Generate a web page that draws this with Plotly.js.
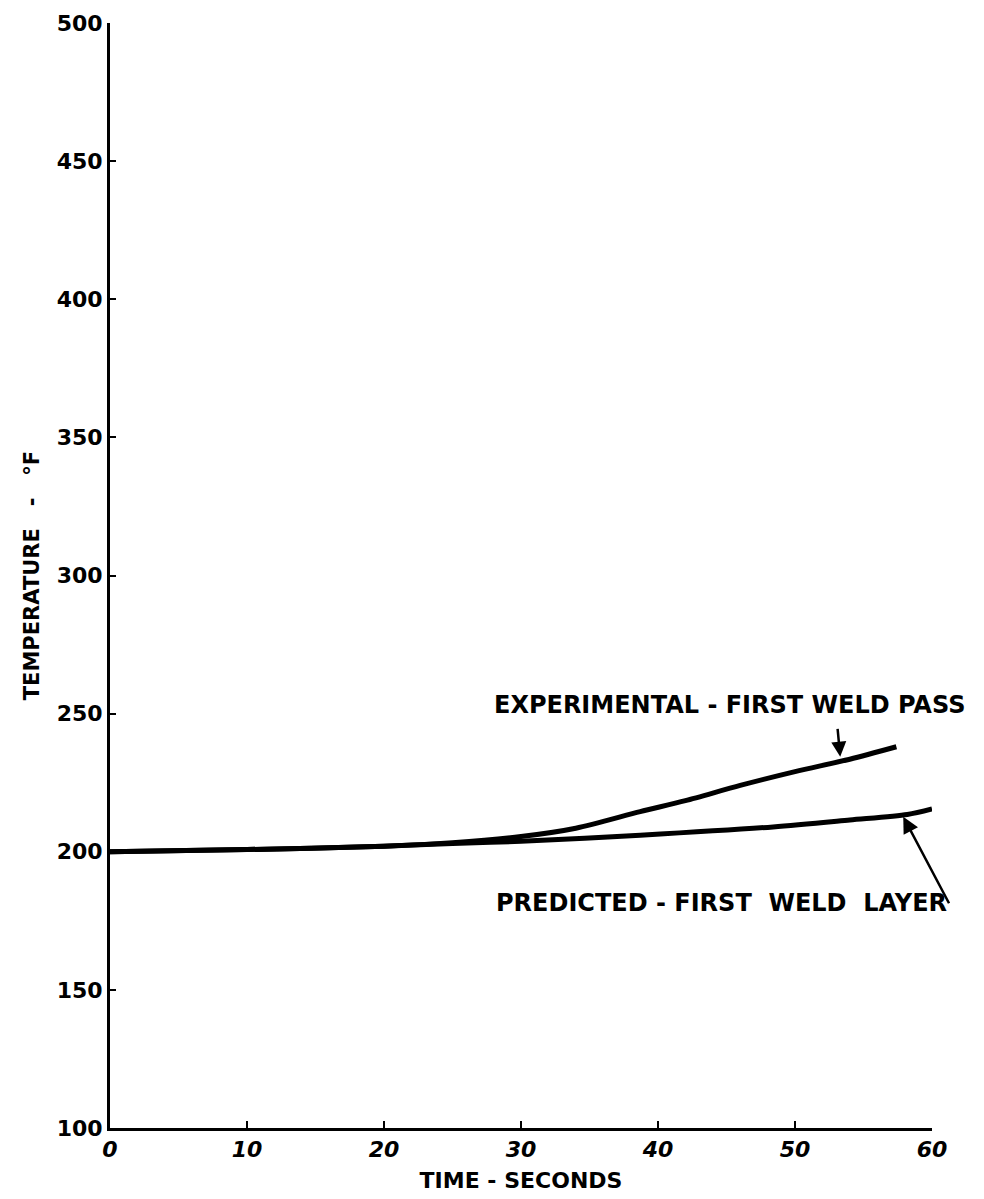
<!DOCTYPE html>
<html>
<head>
<meta charset="utf-8">
<script src="https://cdn.plot.ly/plotly-3.0.1.min.js"></script>
<style>html,body{margin:0;padding:0;background:#fff;}#chart{width:984px;height:1199px;}</style>
</head>
<body>
<div id="chart"></div>
<script>
// Time in seconds
const expTime = [0, 10, 20, 25, 30, 34, 38.7, 42, 46, 50, 54, 57.4];
// Experimental - first weld pass, temperature in °F
const expTemp = [200, 200.8, 202, 203.3, 205.5, 208.5, 214.5, 218.5, 224, 229, 233.5, 238];

const predTime = [0, 10, 20, 25, 30, 38.7, 48.4, 54, 58.2, 60];
// Predicted - first weld layer, temperature in °F
const predTemp = [200, 200.8, 202, 203, 203.8, 206, 209, 211.5, 213.5, 215.5];

const xTicks = [0, 10, 20, 30, 40, 50, 60];
const xTickText = ["0", "10", "20", "30", "40", "50", "60"];
const yTicks = [100, 150, 200, 250, 300, 350, 400, 450, 500];
const yTickText = ["100", "150", "200", "250", "300", "350", "400", "450", "500"];

const labelExp = "EXPERIMENTAL - FIRST WELD PASS";
const labelPred = "PREDICTED - FIRST  WELD  LAYER";

const FONT = "DejaVu Sans, Liberation Sans, sans-serif";

const traces = [
  {x: expTime, y: expTemp, mode: "lines", line: {color: "#000", width: 5, shape: "spline", smoothing: 0.8}, name: labelExp, hoverinfo: "skip"},
  {x: predTime, y: predTemp, mode: "lines", line: {color: "#000", width: 5, shape: "spline", smoothing: 0.8}, name: labelPred, hoverinfo: "skip"}
];

const layout = {
  width: 984, height: 1199,
  margin: {l: 110, r: 52, t: 23, b: 71},
  paper_bgcolor: "#fff", plot_bgcolor: "#fff",
  showlegend: false,
  font: {family: FONT, color: "#000"},
  xaxis: {
    range: [0, 60], tickvals: xTicks, ticktext: xTickText,
    showgrid: false, zeroline: false, showline: true, linecolor: "#000", linewidth: 3,
    ticks: "inside", ticklen: 7, tickwidth: 2, tickcolor: "#000",
    tickfont: {family: FONT, size: 22, weight: "bold", style: "italic"},
    title: {text: "TIME - SECONDS", font: {family: FONT, size: 22, weight: "bold"}, standoff: 12}
  },
  yaxis: {
    range: [100, 500], tickvals: yTicks, ticktext: yTickText,
    showgrid: false, zeroline: false, showline: true, linecolor: "#000", linewidth: 3,
    ticks: "inside", ticklen: 6, tickwidth: 2, tickcolor: "#000",
    tickfont: {family: FONT, size: 22, weight: "bold"},
    title: {text: "TEMPERATURE   -   °F", font: {family: FONT, size: 21, weight: "bold"}, standoff: 12}
  },
  annotations: [
    {x: 45.2, y: 253, xref: "x", yref: "y", text: labelExp, showarrow: false,
     font: {family: FONT, size: 24, weight: "bold"}},
    {x: 44.6, y: 181.5, xref: "x", yref: "y", text: labelPred, showarrow: false,
     font: {family: FONT, size: 24, weight: "bold"}},
    {x: 53.3, y: 234.4, xref: "x", yref: "y", ax: 53.1, ay: 245, axref: "x", ayref: "y",
     text: "", showarrow: true, arrowhead: 2, arrowsize: 1.2, arrowwidth: 2.5, arrowcolor: "#000"},
    {x: 57.9, y: 212.7, xref: "x", yref: "y", ax: 61.3, ay: 180.8, axref: "x", ayref: "y",
     text: "", showarrow: true, arrowhead: 2, arrowsize: 1.3, arrowwidth: 2.5, arrowcolor: "#000"}
  ]
};

Plotly.newPlot("chart", traces, layout, {staticPlot: true, displayModeBar: false});
</script>
</body>
</html>
